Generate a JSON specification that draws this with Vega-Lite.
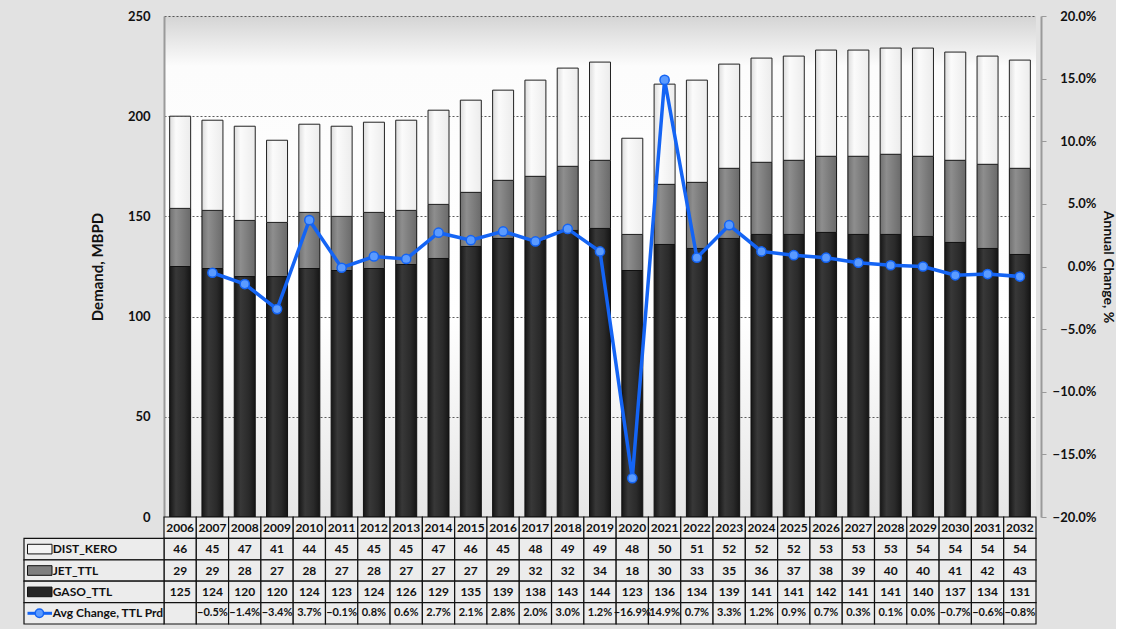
{
  "$schema": "https://vega.github.io/schema/vega-lite/v6.json",
  "background": "#e2e2e2",
  "padding": {"left": 23, "top": 10, "right": 2, "bottom": 4},
  "bounds": "flush",
  "spacing": 0,
  "config": {
    "font": "Lato",
    "view": {"stroke": null},
    "text": {"font": "Lato", "fontWeight": "bold", "fontSize": 12, "color": "#111"}
  },
  "datasets": {
    "demand": [
      {"year": 2006, "DIST_KERO": 46, "JET_TTL": 29, "GASO_TTL": 125, "chg": null},
      {"year": 2007, "DIST_KERO": 45, "JET_TTL": 29, "GASO_TTL": 124, "chg": -0.005},
      {"year": 2008, "DIST_KERO": 47, "JET_TTL": 28, "GASO_TTL": 120, "chg": -0.014},
      {"year": 2009, "DIST_KERO": 41, "JET_TTL": 27, "GASO_TTL": 120, "chg": -0.034},
      {"year": 2010, "DIST_KERO": 44, "JET_TTL": 28, "GASO_TTL": 124, "chg": 0.037},
      {"year": 2011, "DIST_KERO": 45, "JET_TTL": 27, "GASO_TTL": 123, "chg": -0.001},
      {"year": 2012, "DIST_KERO": 45, "JET_TTL": 28, "GASO_TTL": 124, "chg": 0.008},
      {"year": 2013, "DIST_KERO": 45, "JET_TTL": 27, "GASO_TTL": 126, "chg": 0.006},
      {"year": 2014, "DIST_KERO": 47, "JET_TTL": 27, "GASO_TTL": 129, "chg": 0.027},
      {"year": 2015, "DIST_KERO": 46, "JET_TTL": 27, "GASO_TTL": 135, "chg": 0.021},
      {"year": 2016, "DIST_KERO": 45, "JET_TTL": 29, "GASO_TTL": 139, "chg": 0.028},
      {"year": 2017, "DIST_KERO": 48, "JET_TTL": 32, "GASO_TTL": 138, "chg": 0.020},
      {"year": 2018, "DIST_KERO": 49, "JET_TTL": 32, "GASO_TTL": 143, "chg": 0.030},
      {"year": 2019, "DIST_KERO": 49, "JET_TTL": 34, "GASO_TTL": 144, "chg": 0.012},
      {"year": 2020, "DIST_KERO": 48, "JET_TTL": 18, "GASO_TTL": 123, "chg": -0.169},
      {"year": 2021, "DIST_KERO": 50, "JET_TTL": 30, "GASO_TTL": 136, "chg": 0.149},
      {"year": 2022, "DIST_KERO": 51, "JET_TTL": 33, "GASO_TTL": 134, "chg": 0.007},
      {"year": 2023, "DIST_KERO": 52, "JET_TTL": 35, "GASO_TTL": 139, "chg": 0.033},
      {"year": 2024, "DIST_KERO": 52, "JET_TTL": 36, "GASO_TTL": 141, "chg": 0.012},
      {"year": 2025, "DIST_KERO": 52, "JET_TTL": 37, "GASO_TTL": 141, "chg": 0.009},
      {"year": 2026, "DIST_KERO": 53, "JET_TTL": 38, "GASO_TTL": 142, "chg": 0.007},
      {"year": 2027, "DIST_KERO": 53, "JET_TTL": 39, "GASO_TTL": 141, "chg": 0.003},
      {"year": 2028, "DIST_KERO": 53, "JET_TTL": 40, "GASO_TTL": 141, "chg": 0.001},
      {"year": 2029, "DIST_KERO": 54, "JET_TTL": 40, "GASO_TTL": 140, "chg": 0.000},
      {"year": 2030, "DIST_KERO": 54, "JET_TTL": 41, "GASO_TTL": 137, "chg": -0.007},
      {"year": 2031, "DIST_KERO": 54, "JET_TTL": 42, "GASO_TTL": 134, "chg": -0.006},
      {"year": 2032, "DIST_KERO": 54, "JET_TTL": 43, "GASO_TTL": 131, "chg": -0.008}
    ]
  },
  "vconcat": [
    {
      "width": 872,
      "height": 501,
      "data": {"name": "demand"},
      "view": {
        "stroke": null,
        "fill": {
          "gradient": "linear", "x1": 0, "y1": 0, "x2": 0, "y2": 1,
          "stops": [
            {"offset": 0, "color": "#d4d4d4"},
            {"offset": 0.1, "color": "#fcfcfc"},
            {"offset": 0.6, "color": "#ffffff"},
            {"offset": 1, "color": "#e6e6e6"}
          ]
        }
      },
      "layer": [
        {
          "transform": [
            {"fold": ["GASO_TTL", "JET_TTL", "DIST_KERO"], "as": ["series", "value"]},
            {"calculate": "indexof(['GASO_TTL','JET_TTL','DIST_KERO'], datum.series)", "as": "ord"},
            {"stack": "value", "groupby": ["year"], "sort": [{"field": "ord", "order": "ascending"}], "as": ["v0", "v1"]}
          ],
          "encoding": {
            "x": {"field": "year", "type": "ordinal", "axis": null,
                  "scale": {"paddingInner": 0.35, "paddingOuter": 0.175}},
            "y": {"field": "v1", "type": "quantitative",
                  "scale": {"domain": [0, 250]},
                  "axis": {
                    "values": [0, 50, 100, 150, 200, 250],
                    "title": "Demand, MBPD", "titleFontSize": 15, "titleFontWeight": "bold",
                    "titleColor": "#111", "titlePadding": 22,
                    "labelFontSize": 13, "labelFontWeight": "bold", "labelColor": "#111",
                    "labelPadding": 14, "ticks": false,
                    "domainColor": "#9a9a9a", "domainWidth": 2,
                    "grid": true, "gridColor": "#333", "gridDash": [2, 2], "gridWidth": 0.8
                  }},
            "y2": {"field": "v0"}
          },
          "layer": [
            {
              "transform": [{"filter": "datum.series === 'GASO_TTL'"}],
              "mark": {"type": "bar", "stroke": "#111", "strokeWidth": 1,
                       "fill": {"gradient": "linear", "stops": [
                         {"offset": 0, "color": "#161616"},
                         {"offset": 0.3, "color": "#383838"},
                         {"offset": 0.7, "color": "#2a2a2a"},
                         {"offset": 1, "color": "#151515"}]}}
            },
            {
              "transform": [{"filter": "datum.series === 'JET_TTL'"}],
              "mark": {"type": "bar", "stroke": "#111", "strokeWidth": 1,
                       "fill": {"gradient": "linear", "stops": [
                         {"offset": 0, "color": "#707070"},
                         {"offset": 0.3, "color": "#8e8e8e"},
                         {"offset": 1, "color": "#6a6a6a"}]}}
            },
            {
              "transform": [{"filter": "datum.series === 'DIST_KERO'"}],
              "mark": {"type": "bar", "stroke": "#222", "strokeWidth": 1,
                       "fill": {"gradient": "linear", "stops": [
                         {"offset": 0, "color": "#dcdcdc"},
                         {"offset": 0.3, "color": "#fbfbfb"},
                         {"offset": 1, "color": "#ececec"}]}}
            }
          ]
        },
        {
          "mark": {"type": "line", "stroke": "#1464f4", "strokeWidth": 3.5,
                   "point": {"filled": true, "fill": "#5b9bff", "stroke": "#1464f4", "strokeWidth": 1.5, "size": 85}},
          "encoding": {
            "x": {"field": "year", "type": "ordinal", "axis": null},
            "y": {"field": "chg", "type": "quantitative",
                  "scale": {"domain": [-0.2, 0.2]},
                  "axis": {
                    "orient": "right", "offset": 5,
                    "values": [-0.2, -0.15, -0.1, -0.05, 0, 0.05, 0.1, 0.15, 0.2],
                    "format": ".1%",
                    "title": "Annual Change, %", "titleFontSize": 14, "titleFontWeight": "bold",
                    "titleColor": "#111", "titlePadding": 4,
                    "labelFontSize": 13, "labelFontWeight": "bold", "labelColor": "#111",
                    "labelAlign": "right", "labelPadding": 50,
                    "tickSize": 5, "tickColor": "#9a9a9a",
                    "domainColor": "#9a9a9a", "domainWidth": 2, "grid": false
                  }}
          }
        }
      ],
      "resolve": {"scale": {"y": "independent"}}
    },
    {
      "width": 872,
      "height": 107,
      "data": {"name": "demand"},
      "layer": [
        {
          "encoding": {
            "x": {"field": "year", "type": "ordinal", "axis": null,
                  "scale": {"paddingInner": 0, "paddingOuter": 0}},
            "y": {"datum": "year", "type": "nominal", "axis": null,
                  "scale": {"domain": ["year", "DIST_KERO", "JET_TTL", "GASO_TTL", "Avg Change, TTL Prd"], "paddingInner": 0, "paddingOuter": 0}}
          },
          "layer": [
            {"mark": {"type": "rect", "fill": "#ececec", "stroke": "#111", "strokeWidth": 1.2}},
            {"mark": {"type": "text"}, "encoding": {"text": {"field": "year"}}}
          ]
        },
        {
          "transform": [{"fold": ["DIST_KERO", "JET_TTL", "GASO_TTL"], "as": ["series", "value"]}],
          "encoding": {
            "x": {"field": "year", "type": "ordinal", "axis": null,
                  "scale": {"paddingInner": 0, "paddingOuter": 0}},
            "y": {"field": "series", "type": "nominal", "axis": null,
                  "scale": {"domain": ["year", "DIST_KERO", "JET_TTL", "GASO_TTL", "Avg Change, TTL Prd"], "paddingInner": 0, "paddingOuter": 0}}
          },
          "layer": [
            {"mark": {"type": "rect", "fill": "#ececec", "stroke": "#111", "strokeWidth": 1.2}},
            {"mark": {"type": "text"}, "encoding": {"text": {"field": "value", "type": "quantitative"}}}
          ]
        },
        {
          "encoding": {
            "x": {"field": "year", "type": "ordinal", "axis": null,
                  "scale": {"paddingInner": 0, "paddingOuter": 0}},
            "y": {"datum": "Avg Change, TTL Prd", "type": "nominal", "axis": null,
                  "scale": {"domain": ["year", "DIST_KERO", "JET_TTL", "GASO_TTL", "Avg Change, TTL Prd"], "paddingInner": 0, "paddingOuter": 0}}
          },
          "layer": [
            {"mark": {"type": "rect", "fill": "#ececec", "stroke": "#111", "strokeWidth": 1.2}},
            {
              "transform": [{"filter": "datum.chg != null"}],
              "mark": {"type": "text", "fontSize": 11},
              "encoding": {"text": {"field": "chg", "type": "quantitative", "format": ".1%"}}
            }
          ]
        },
        {
          "data": {"values": [
            {"label": "DIST_KERO"},
            {"label": "JET_TTL"},
            {"label": "GASO_TTL"},
            {"label": "Avg Change, TTL Prd"}
          ]},
          "encoding": {
            "y": {"field": "label", "type": "nominal", "axis": null,
                  "scale": {"domain": ["year", "DIST_KERO", "JET_TTL", "GASO_TTL", "Avg Change, TTL Prd"], "paddingInner": 0, "paddingOuter": 0}}
          },
          "layer": [
            {
              "mark": {"type": "rect", "fill": "#ececec", "stroke": "#111", "strokeWidth": 1.2},
              "encoding": {
                "x": {"datum": 0, "type": "quantitative", "axis": null,
                      "scale": {"domain": [0, 1], "range": [-140, 0]}},
                "x2": {"datum": 1}
              }
            },
            {
              "transform": [{"filter": "datum.label !== 'Avg Change, TTL Prd'"}],
              "mark": {"type": "bar", "height": {"band": 0.45}, "stroke": "#111", "strokeWidth": 1},
              "encoding": {
                "x": {"datum": 0.025, "type": "quantitative"},
                "x2": {"datum": 0.2},
                "fill": {"field": "label", "type": "nominal", "legend": null,
                         "scale": {"domain": ["DIST_KERO", "JET_TTL", "GASO_TTL"],
                                   "range": ["#f4f4f4", "#7e7e7e", "#262626"]}}
              }
            },
            {
              "transform": [{"filter": "datum.label === 'Avg Change, TTL Prd'"}],
              "mark": {"type": "rule", "stroke": "#1464f4", "strokeWidth": 3},
              "encoding": {
                "x": {"datum": 0.025, "type": "quantitative"},
                "x2": {"datum": 0.2}
              }
            },
            {
              "transform": [{"filter": "datum.label === 'Avg Change, TTL Prd'"}],
              "mark": {"type": "point", "filled": true, "fill": "#5b9bff", "stroke": "#1464f4", "strokeWidth": 1.5, "size": 70, "opacity": 1},
              "encoding": {"x": {"datum": 0.11, "type": "quantitative"}}
            },
            {
              "mark": {"type": "text", "align": "left"},
              "encoding": {
                "x": {"datum": 0.205, "type": "quantitative"},
                "text": {"field": "label"}
              }
            }
          ]
        }
      ],
      "resolve": {"scale": {"x": "independent"}}
    }
  ]
}
